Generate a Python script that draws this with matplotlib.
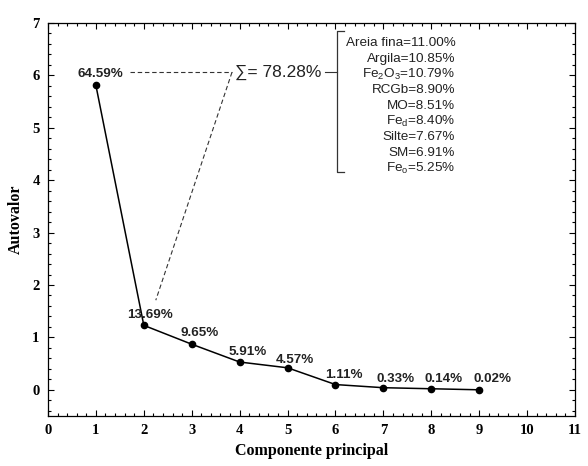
import matplotlib
matplotlib.use("Agg")
import matplotlib.pyplot as plt
from matplotlib.ticker import MultipleLocator

plt.rcParams['mathtext.fontset'] = 'custom'
plt.rcParams['mathtext.rm'] = 'Liberation Sans'
plt.rcParams['mathtext.it'] = 'Liberation Sans:italic'

# eigenvalues
componente = [1, 2, 3, 4, 5, 6, 7, 8, 9]
autovalor = [5.81, 1.23, 0.87, 0.53, 0.42, 0.10, 0.04, 0.02, 0.00]
variancia = ['64.59%', '13.69%', '9.65%', '5.91%', '4.57%', '1.11%', '0.33%', '0.14%', '0.02%']

# contributions listed in the bracket
variaveis = ['Areia fina=11.00%', 'Argila=10.85%', r'Fe$_2$O$_3$=10.79%', 'RCGb=8.90%',
             'MO=8.51%', r'Fe$_\mathrm{d}$=8.40%', 'Silte=7.67%', 'SM=6.91%', r'Fe$_\mathrm{o}$=5.25%']
soma = '\u2211= 78.28%'

fig = plt.figure(figsize=(5.88, 4.66), dpi=100)
ax = fig.add_axes([0.0816, 0.1073, 0.8964, 0.8433])

ax.plot(componente, autovalor, color='black', lw=1.1, marker='o', ms=4.5, zorder=3)

# percentage labels above each point
offsets = [(0.09, 0.21), (0.12, 0.20), (0.16, 0.21), (0.16, 0.20), (0.16, 0.15),
           (0.18, 0.19), (0.25, 0.17), (0.26, 0.19), (0.27, 0.21)]
for x, y, lab, (dx, dy) in zip(componente, autovalor, variancia, offsets):
    ax.text(x + dx, y + dy, lab, ha='center', va='center', fontsize=9.6,
            fontweight='bold', family='Liberation Sans', color='#222222')

# dashed lines linking first two components to the sum
ax.plot([1.71, 3.84], [6.06, 6.06], color='#333333', lw=0.8, ls=(0, (4, 2.5)))
ax.plot([3.84, 2.25], [6.06, 1.71], color='#333333', lw=0.8, ls=(0, (4, 2.5)))
ax.text(3.9, 6.06, soma, ha='left', va='center', fontsize=12.5,
        family=['Liberation Sans', 'DejaVu Sans'], color='#222222')

# bracket with the variables
ax.plot([5.78, 6.03], [6.06, 6.06], color='#333333', lw=0.8)
ax.plot([6.18, 6.03, 6.03, 6.18], [6.84, 6.84, 4.16, 4.16], color='#333333', lw=0.9)
y0, dy = 6.61, -0.298
for i, v in enumerate(variaveis):
    ax.text(8.5, y0 + i * dy, v, ha='right', va='center', fontsize=9.7,
            family='Liberation Sans', color='#222222')

ax.set_xlim(0, 11)
ax.set_ylim(-0.5, 7)
ax.xaxis.set_major_locator(MultipleLocator(1))
ax.xaxis.set_minor_locator(MultipleLocator(0.2))
ax.yaxis.set_major_locator(MultipleLocator(1))
ax.yaxis.set_minor_locator(MultipleLocator(0.2))
ax.tick_params(which='both', direction='in', top=True, right=True, width=0.8)
ax.tick_params(which='major', length=4, pad=6)
ax.tick_params(which='minor', length=2)
for lab in ax.get_xticklabels() + ax.get_yticklabels():
    lab.set_fontfamily('Liberation Serif')
    lab.set_fontweight('bold')
    lab.set_fontsize(10.5)
for s in ax.spines.values():
    s.set_linewidth(0.9)

ax.set_xlabel('Componente principal', family='Liberation Serif', fontweight='bold', fontsize=11.5, labelpad=4)
ax.set_ylabel('Autovalor', family='Liberation Serif', fontweight='bold', fontsize=11.5, labelpad=6)

fig.savefig('out.png', dpi=100)
